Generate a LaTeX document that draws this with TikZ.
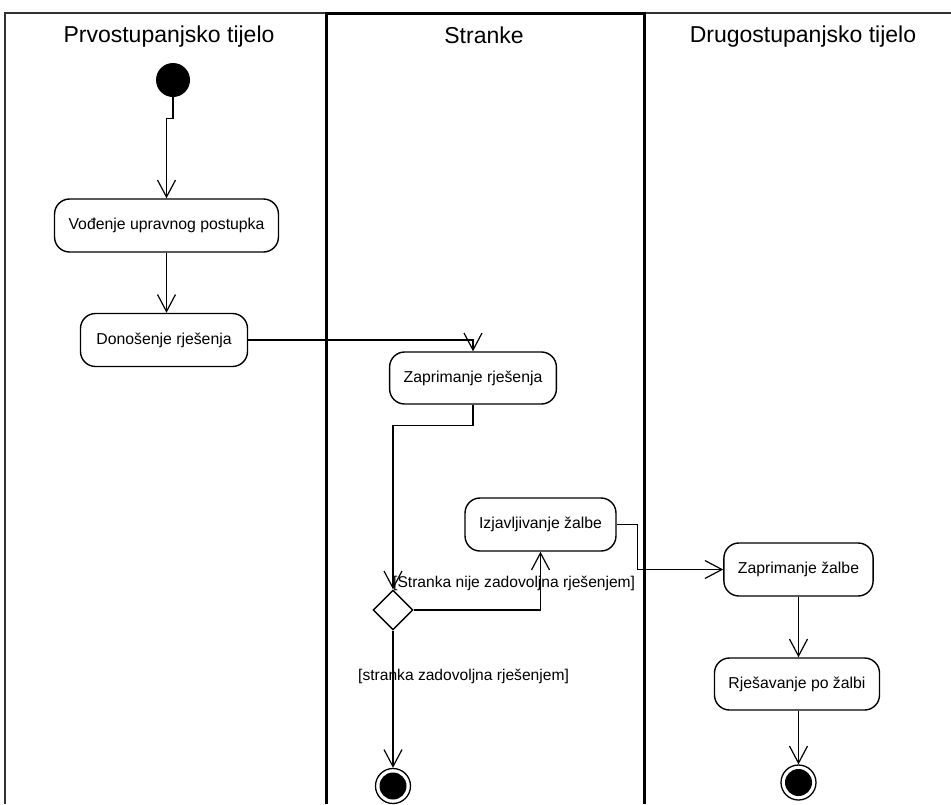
\documentclass[tikz,border=0pt]{standalone}
\usepackage{fontspec}
\setmainfont{Liberation Sans}
\usetikzlibrary{arrows.meta,shapes.geometric,calc}
\begin{document}
\begin{tikzpicture}[x=1pt,y=-1pt,
  action/.style={draw, rounded corners=15pt, line width=1.4pt, minimum height=53pt,
    inner xsep=14pt, font=\fontsize{15.8}{18}\selectfont},
  flow/.style={draw, line width=1.2pt, -{Straight Barb[length=17pt,width=18pt]}},
  guard/.style={inner sep=0pt, font=\fontsize{15.6}{18}\selectfont},
  lanetitle/.style={inner sep=0pt, font=\fontsize{23}{27}\selectfont},
  startnode/.style={circle, fill=black, minimum size=34pt, inner sep=0pt},
  endnode/.style={circle, draw, line width=1.3pt, minimum size=35pt, inner sep=0pt,
    path picture={\fill[black] (path picture bounding box.center) circle (13.5pt);}},
  decision/.style={diamond, draw, line width=1.4pt, minimum width=40pt, minimum height=40pt,
    inner sep=0pt, aspect=1}
]
\useasboundingbox (0,0) rectangle (951,804);
\fill[white] (0,0) rectangle (951,804);

% swimlanes
\draw[line width=1.3pt, black!80] (5,804) -- (5,13) -- (951,13);
\draw[line width=3pt] (326,804) -- (326,13) -- (644,13) -- (644,804);
\node[lanetitle] (t1) at (169,37) {Prvostupanjsko tijelo};
\node[lanetitle] (t2) at (484,35) {Stranke};
\node[lanetitle] (t3) at (803,37) {Drugostupanjsko tijelo};

% nodes
\node[startnode] (init) at (173,80) {};
\node[action, minimum width=223pt] (vod) at (166.5,225.5) {Vođenje upravnog postupka};
\node[action, minimum width=167pt] (don) at (164,340) {Donošenje rješenja};
\node[action, minimum width=161pt, minimum height=52pt] (zr) at (473,378) {Zaprimanje rješenja};
\node[decision] (dec) at (393,610) {};
\node[action, minimum width=145pt] (izj) at (540.5,524.5) {Izjavljivanje žalbe};
\node[action, minimum width=142pt] (zz) at (798.5,569.5) {Zaprimanje žalbe};
\node[action, minimum width=155pt, minimum height=52pt] (rz) at (797,684) {Rješavanje po žalbi};
\node[endnode] (end1) at (393,786) {};
\node[endnode] (end2) at (798.5,782.5) {};

% guards
\node[guard, anchor=base west] (g1) at (393,587) {[Stranka nije zadovoljna rješenjem]};
\node[guard, anchor=base west] (g2) at (358,680) {[stranka zadovoljna rješenjem]};

% control flow
\draw[flow] (init.south) -- ++(0,21) -| (vod.north);
\draw[flow] (vod.south) -- (vod.south |- don.north);
\draw[flow] (don.east) -| (zr.north);
\draw[flow] (zr.south) -- ++(0,21) -| (dec.north);
\draw[flow] (dec.east) -| (izj.south);
\draw[flow] (izj.east) -- ++(21,0) |- (zz.west);
\draw[flow] (zz.south) -- (zz.south |- rz.north);
\draw[flow] (dec.south) -- (end1.north);
\draw[flow] (rz.south -| end2.north) -- (end2.north);
\end{tikzpicture}
\end{document}
